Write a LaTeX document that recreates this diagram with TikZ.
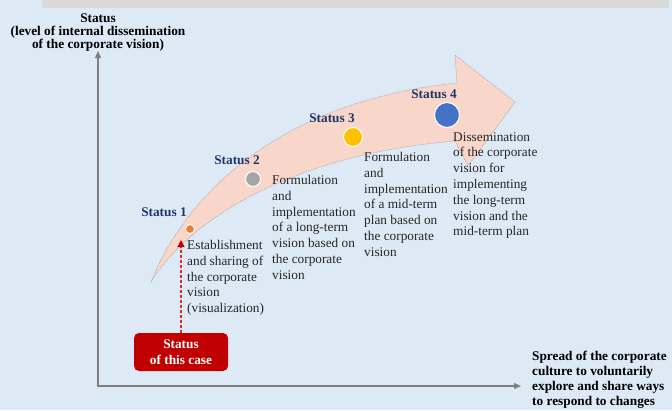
\documentclass[tikz,border=0pt]{standalone}
\usepackage{fontspec}
\setmainfont{Liberation Serif}
\usetikzlibrary{arrows.meta}
\definecolor{fondo}{HTML}{DDE9F5}
\definecolor{barra}{HTML}{D9D9D9}
\definecolor{rosa}{HTML}{F8D6CA}
\definecolor{azul}{HTML}{1F3669}
\definecolor{rojo}{HTML}{C00000}
\definecolor{rojoclaro}{HTML}{E02828}
\definecolor{gris}{HTML}{7F7F7F}
\definecolor{naranja}{HTML}{ED7D31}
\definecolor{amarillo}{HTML}{FFC000}
\definecolor{azulclaro}{HTML}{4472C4}
\definecolor{grisclaro}{HTML}{A5A5A5}
\begin{document}
\begin{tikzpicture}[x=1pt,y=-1pt,
    txt/.style={font=\fontsize{13.3}{15.8}\selectfont, text=black!85,
      align=left, anchor=north west, inner sep=0},
    etiq/.style={font=\fontsize{13.3}{15}\selectfont\bfseries, text=azul, inner sep=0},
    punto/.style={circle, draw=white, line width=1pt, inner sep=0},
    eje/.style={draw=gris, line width=1.2pt,
      {Triangle[length=7pt,width=6pt]}-{Triangle[length=7pt,width=6pt]}}]
  \useasboundingbox (0,0) rectangle (672,410);
  \fill[fondo] (0,0) rectangle (672,410);
  \fill[barra] (42,0) rectangle (669,8);
  % flecha curva de fondo
  \draw[fill=rosa, draw=black!35, dash pattern=on 1.5pt off 1pt, line width=0.5pt]
      (151,282) coordinate (cola)
      .. controls (190,185) and (290,100) .. (457,83) coordinate (cuello)
      -- (455,55) -- (515,102) coordinate (punta) -- (468,166) -- (455,141)
      .. controls (285,155) and (185,225) .. (cola) -- cycle;
  % ejes
  \coordinate (o) at (98,386);
  \coordinate (ytop) at (98,51);
  \coordinate (xend) at (521,386);
  \draw[eje] (ytop) -- (o) -- (xend);
  \node[font=\fontsize{13.3}{13}\selectfont\bfseries, align=center, inner sep=0]
      (ylab) at (98,33) {Status\\(level of internal dissemination\\of the corporate vision)};
  \node[font=\fontsize{13.3}{15}\selectfont\bfseries, align=left, anchor=west, inner sep=0]
      (xlab) at (532,380) {Spread of the corporate\\culture to voluntarily\\explore and share ways\\to respond to changes};
  % estados
  \node[punto, fill=naranja, minimum size=9pt] (s1) at (190,229) {};
  \node[punto, fill=grisclaro, minimum size=15pt] (s2) at (253,179) {};
  \node[punto, fill=amarillo, minimum size=19pt] (s3) at (353,137) {};
  \node[punto, fill=azulclaro, minimum size=25pt] (s4) at (447,115) {};
  \node[etiq] (l1) at (164,212) {Status 1};
  \node[etiq] (l2) at (237,160) {Status 2};
  \node[etiq] (l3) at (332,118) {Status 3};
  \node[etiq] (l4) at (434,94) {Status 4};
  \node[txt] (d1) at (187,240) {Establishment\\and sharing of\\the corporate\\vision\\(visualization)};
  \node[txt] (d2) at (272,175) {Formulation\\and\\implementation\\of a long-term\\vision based on\\the corporate\\vision};
  \node[txt] (d3) at (364,152) {Formulation\\and\\implementation\\of a mid-term\\plan based on\\the corporate\\vision};
  \node[txt] (d4) at (453,132) {Dissemination\\of the corporate\\vision for\\implementing\\the long-term\\vision and the\\mid-term plan};
  % caso actual
  \node[fill=rojo, rounded corners=5pt, text=white, align=center,
        font=\fontsize{13.3}{16}\selectfont\bfseries,
        minimum width=94pt, minimum height=38pt] (caso) at (181,352) {Status\\of this case};
  \coordinate (s1tip) at (181,240);
  \draw[draw=rojoclaro, line width=1.2pt, dash pattern=on 3pt off 2pt,
        -{Triangle[length=7pt,width=7pt,color=rojo,fill=rojo]}]
      (caso.north) -- (s1tip);
\end{tikzpicture}
\end{document}
